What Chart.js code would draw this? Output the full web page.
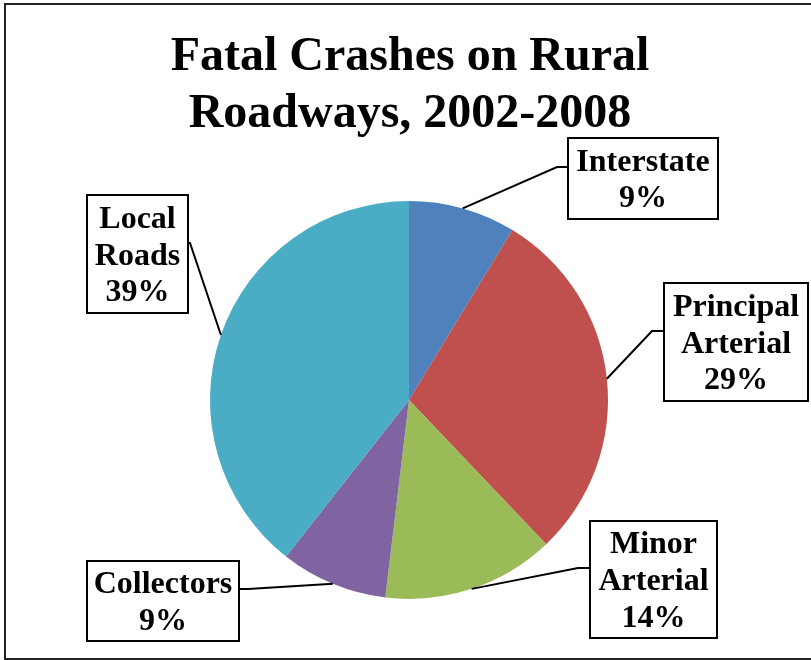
<!DOCTYPE html>
<html><head><meta charset="utf-8">
<script src="https://cdn.jsdelivr.net/npm/chart.js@4/dist/chart.umd.min.js"></script>
<style>html,body{margin:0;padding:0;background:#fff}#wrap{width:811px;height:660px;position:relative}canvas{display:block}</style>
</head><body><div id="wrap"><canvas id="c" width="811" height="660"></canvas></div>
<script>
const titleLines = ["Fatal Crashes on Rural", "Roadways, 2002-2008"];
const categories = ["Interstate", "Principal Arterial", "Minor Arterial", "Collectors", "Local Roads"];
const shares = [8.7, 29.2, 14.0, 8.7, 39.4];
const colors = ["#4F81BD", "#C0504D", "#9BBB59", "#8064A2", "#4BACC6"];

// label box layout (positions only)
const boxLayout = [
  {x:568, y:138, w:150, h:81,  ex:557, ey:167, tx:568, ty:167},
  {x:664, y:283, w:144, h:118, ex:652, ey:331, tx:664, ty:331},
  {x:590, y:521, w:127, h:117, ex:578, ey:568, tx:590, ty:568},
  {x:87,  y:561, w:152, h:80,  ex:248, ey:589, tx:239, ty:589},
  {x:87,  y:195, w:101, h:118, ex:190, ey:243, tx:188, ty:243}
];

const FONT = '"Liberation Serif", "Times New Roman", serif';

const decor = {
  id: 'decor',
  afterDraw(chart) {
    const ctx = chart.ctx;
    ctx.save();
    // outer frame
    ctx.strokeStyle = '#222';
    ctx.lineWidth = 2;
    ctx.strokeRect(5, 4, 830, 655);
    // title
    ctx.fillStyle = '#000';
    ctx.textAlign = 'center';
    ctx.textBaseline = 'alphabetic';
    ctx.font = 'bold 48px ' + FONT;
    titleLines.forEach((t, i) => ctx.fillText(t, 410, 70 + i * 57));
    // labels
    const total = shares.reduce((a, b) => a + b, 0);
    const meta = chart.getDatasetMeta(0);
    meta.data.forEach((arc, i) => {
      const p = arc.getProps(['x','y','startAngle','endAngle','outerRadius'], true);
      const mid = (p.startAngle + p.endAngle) / 2;
      const ax = p.x + Math.cos(mid) * p.outerRadius;
      const ay = p.y + Math.sin(mid) * p.outerRadius;
      const b = boxLayout[i];
      ctx.strokeStyle = '#000';
      ctx.lineWidth = 2;
      ctx.beginPath();
      ctx.moveTo(ax, ay);
      ctx.lineTo(b.ex, b.ey);
      ctx.lineTo(b.tx, b.ty);
      ctx.stroke();
      ctx.fillStyle = '#fff';
      ctx.fillRect(b.x, b.y, b.w, b.h);
      ctx.strokeRect(b.x, b.y, b.w, b.h);
      const lines = categories[i].split(' ').concat([Math.round(shares[i] / total * 100) + '%']);
      ctx.fillStyle = '#000';
      ctx.font = 'bold 32px ' + FONT;
      const lh = 36.7, cap = 21;
      const cy = b.y + b.h / 2;
      lines.forEach((t, j) => {
        ctx.fillText(t, b.x + b.w / 2, cy + (j - (lines.length - 1) / 2) * lh + cap / 2);
      });
    });
    ctx.restore();
  }
};

new Chart(document.getElementById('c'), {
  type: 'pie',
  data: {
    labels: categories,
    datasets: [{ data: shares, backgroundColor: colors, borderWidth: 0 }]
  },
  options: {
    responsive: false,
    devicePixelRatio: 1,
    animation: false,
    layout: { padding: { left: 210, right: 203, top: 201, bottom: 61 } },
    plugins: { legend: { display: false }, title: { display: false }, tooltip: { enabled: false } }
  },
  plugins: [decor]
});
</script>
</body></html>
